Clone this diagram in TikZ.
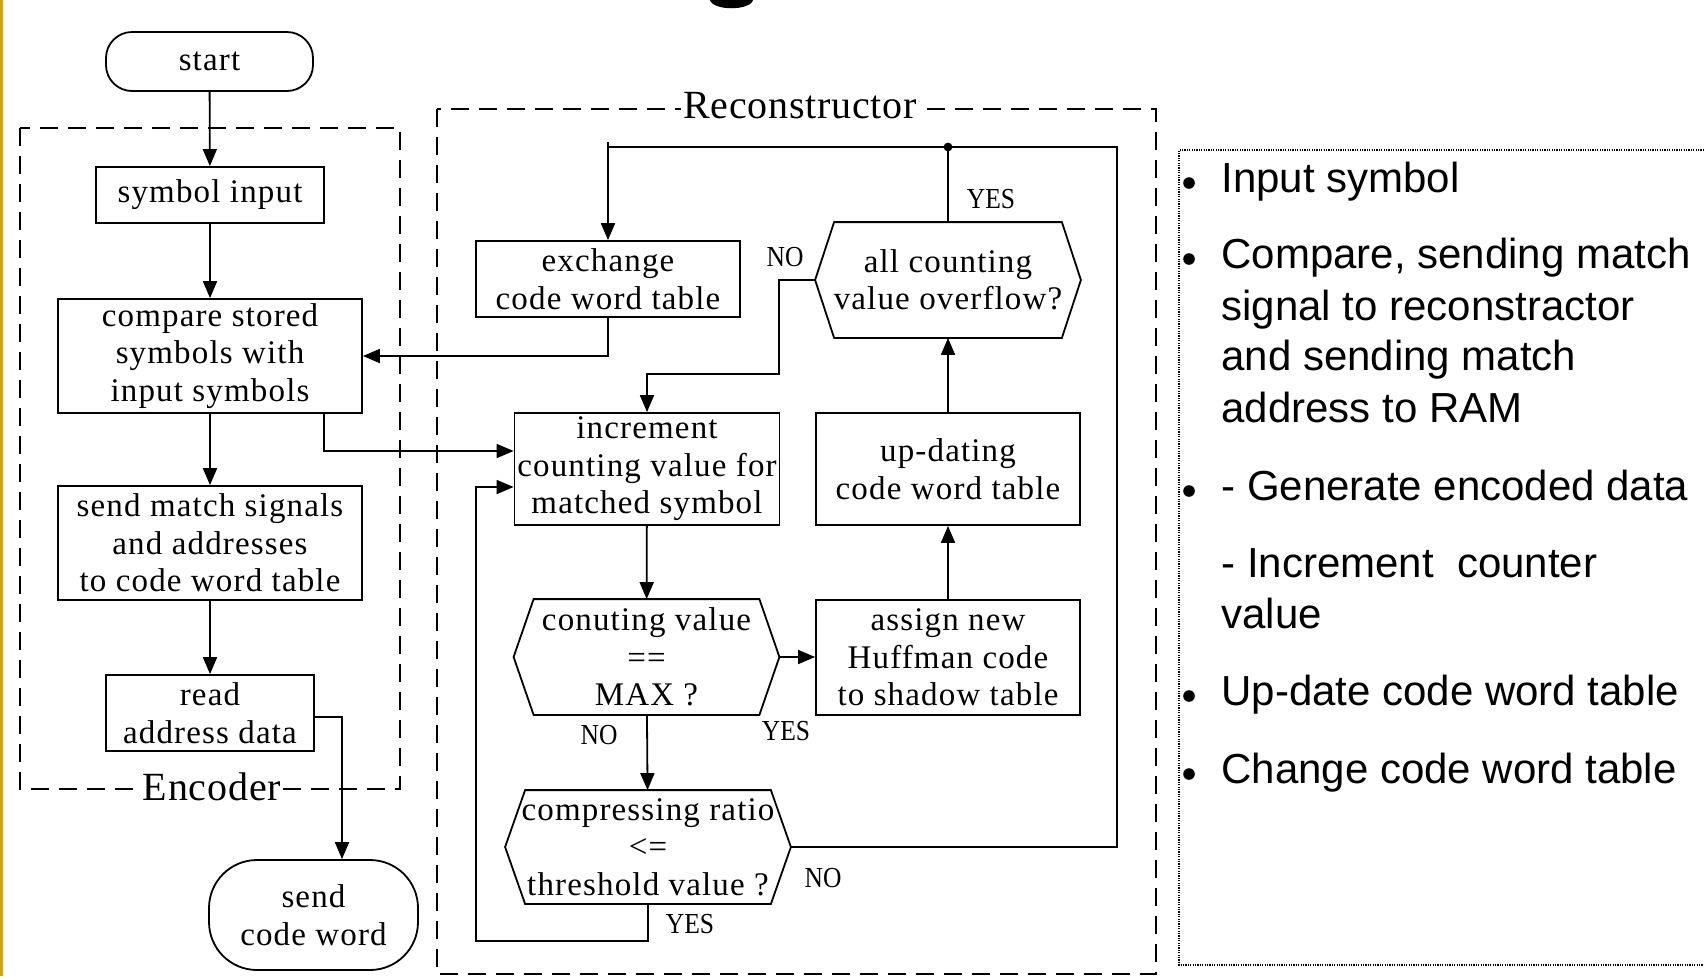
\documentclass[tikz,border=0pt]{standalone}
\usepackage{fontspec}
\setmainfont{Liberation Serif}
\newfontfamily\boxfont[LetterSpace=3.5]{Liberation Serif}
\newfontfamily\grpfont[LetterSpace=2]{Liberation Serif}
\newfontfamily\labfont[FakeStretch=0.88]{Liberation Serif}
\newfontfamily\bulfont{Liberation Sans}
\usetikzlibrary{arrows.meta,calc}
\definecolor{stripcol}{RGB}{214,163,20}
\tikzset{
  box/.style={draw, line width=0.9pt, align=center, inner sep=0pt,
    font=\boxfont\fontsize{16.5pt}{18.75pt}\selectfont},
  hexnode/.style={box, draw=none},
  term/.style={box},
  conn/.style={line width=0.9pt},
  arr/.style={conn, -{Triangle[length=8.5pt,width=7pt]}},
  grpbox/.style={line width=0.75pt, dash pattern=on 9pt off 5pt},
  grplabel/.style={fill=white, inner sep=1pt, font=\grpfont\fontsize{20pt}{22pt}\selectfont},
  yn/.style={inner sep=0pt, font=\labfont\fontsize{14.5pt}{16pt}\selectfont},
  bul/.style={anchor=base west, inner sep=0pt, font=\bulfont\fontsize{21pt}{25pt}\selectfont},
  dotbox/.style={line width=0.7pt, dash pattern=on 0.6pt off 0.6pt}
}
\newcommand{\hexdraw}[2]{%
  \draw[conn] (#1.west) -- ([xshift=#2]#1.north west) -- ([xshift=-#2]#1.north east)
    -- (#1.east) -- ([xshift=-#2]#1.south east) -- ([xshift=#2]#1.south west) -- cycle;}
\begin{document}
\begin{tikzpicture}[x=0.5pt,y=-0.5pt]
\useasboundingbox (0,0) rectangle (1704,976);
% page decorations
\fill[stripcol] (0,0) rectangle (3,976);
\fill (710,0) .. controls (713,11) and (750,11) .. (753,0) -- cycle;

% group boxes
\draw[grpbox] (20,128) rectangle (400,789);
\draw[grpbox] (437,109) rectangle (1156,974);
\node[grplabel] (enclab) at (212,787) {Encoder};
\node[grplabel] (reclab) at (800,106) {Reconstructor};

% encoder nodes
\node[term, rounded corners=13pt, minimum width=103.5pt, minimum height=29.5pt] (start) at (209.5,61.5) {start};
\node[box, minimum width=114pt, minimum height=28pt] (symin) at (210,195) {symbol input};
\node[box, minimum width=152pt, minimum height=57pt] (cmp) at (210,356) {compare stored\\symbols with\\input symbols};
\node[box, minimum width=152pt, minimum height=57pt] (sendm) at (210,543) {send match signals\\and addresses\\to code word table};
\node[box, minimum width=104pt, minimum height=38pt] (rd) at (210,713) {read\\address data};
\node[term, rounded corners=24pt, minimum width=104.5pt, minimum height=55pt] (scw) at (313.5,915) {send\\code word};

% reconstructor nodes
\node[box, minimum width=132pt, minimum height=38pt] (exch) at (608,279) {exchange\\code word table};
\node[hexnode, minimum width=132pt, minimum height=57pt] (allc) at (948,280) {all counting\\value overflow?};
\hexdraw{allc}{9.5pt}
\node[box, minimum width=132.5pt, minimum height=56pt] (incr) at (647,469) {increment\\counting value for\\matched symbol};
\node[box, minimum width=132pt, minimum height=56pt] (upd) at (948,469) {up-dating\\code word table};
\node[hexnode, minimum width=132pt, minimum height=57pt] (cnt) at (646.5,657) {conuting value\\==\\MAX ?};
\hexdraw{cnt}{10pt}
\node[box, minimum width=132pt, minimum height=57.5pt] (asg) at (948,657.5) {assign new\\Huffman code\\to shadow table};
\node[hexnode, minimum width=142pt, minimum height=56pt] (cmpr) at (648,847) {compressing ratio\\<=\\threshold value ?};
\hexdraw{cmpr}{10pt}

% helper coordinates
\coordinate (c1) at (324,451);
\coordinate (c2) at (342,717);
\coordinate (tr) at (1117,147);
\coordinate (tl) at (608,147);
\coordinate (tl0) at (608,142);
\coordinate (n1) at (779,374);
\coordinate (y1) at (476,941);

% encoder connectors
\draw[arr] (start) -- (symin);
\draw[arr] (symin) -- (cmp);
\draw[arr] (cmp) -- (sendm);
\draw[arr] (sendm) -- (rd);
\draw[arr] ([yshift=-2pt]rd.east) -| (scw.north -| c2);
\draw[arr] (cmp.south -| c1) |- ([yshift=9pt]incr.west);

% reconstructor connectors
\draw[arr] (exch.south) |- (cmp.east);
\draw[conn] (cmpr.east) -| (tr) -- (tl);
\draw[arr] (tl0) -- (exch.north);
\draw[conn] (allc.north) -- (allc.north |- tr);
\fill (allc.north |- tr) circle (2.2pt);
\draw[arr] (upd) -- (allc);
\draw[arr] (asg) -- (upd);
\draw[arr] (allc.west) -| (n1) -| (incr.north);
\draw[arr] (incr) -- (cnt);
\draw[arr] (cnt.east) -- (cnt.east -| asg.west);
\draw[arr] (cnt) -- (cmpr);
\draw[arr] (cmpr.south) |- (y1) |- ([yshift=-9pt]incr.west);

% yes/no labels
\node[yn] (yes1) at (991,199) {YES};
\node[yn] (no1) at (785,257) {NO};
\node[yn] (no2) at (599,735) {NO};
\node[yn] (yes2) at (786,731) {YES};
\node[yn] (no3) at (823,878) {NO};
\node[yn] (yes3) at (690,924) {YES};

% bullet panel
\draw[dotbox] (1704,150) -- (1179,150) -- (1179,965) -- (1704,965);
\foreach \b in {192,268,500,705,783} {\fill (1189,\b-9) circle (2.9pt);}
\node[bul] (b1) at (1221,192) {Input symbol};
\node[bul] (b2a) at (1221,268) {Compare, sending match};
\node[bul] (b2b) at (1221,320) {signal to reconstractor};
\node[bul] (b2c) at (1221,370) {and sending match};
\node[bul] (b2d) at (1221,422) {address to RAM};
\node[bul] (b3a) at (1221,500) {- Generate encoded data};
\node[bul] (b3b) at (1221,577) {- Increment\ \ counter};
\node[bul] (b3c) at (1221,628) {value};
\node[bul] (b4) at (1221,705) {Up-date code word table};
\node[bul] (b5) at (1221,783) {Change code word table};
\end{tikzpicture}
\end{document}
